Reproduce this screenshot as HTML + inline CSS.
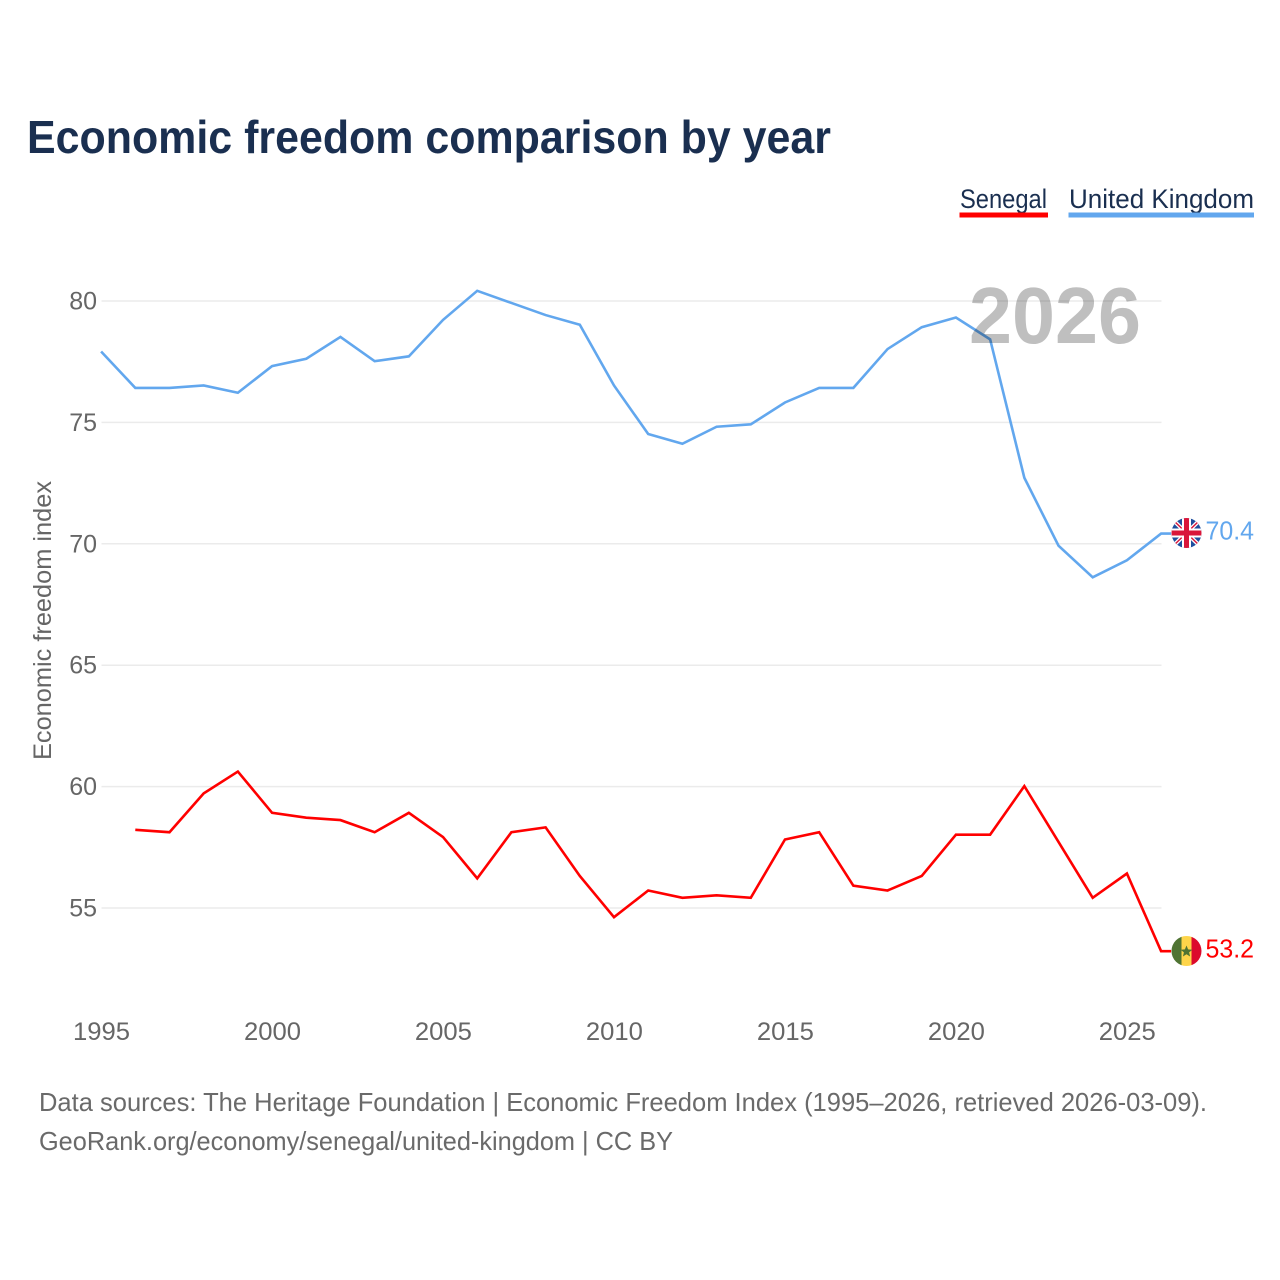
<!DOCTYPE html>
<html lang="en">
<head>
<meta charset="utf-8">
<title>Economic freedom comparison by year</title>
<style>
html,body{margin:0;padding:0;background:#fff;width:1280px;height:1280px;overflow:hidden}
svg{display:block;font-family:"Liberation Sans",sans-serif}
.tick{font-size:25px;fill:#666}
</style>
</head>
<body>
<svg id="chart" width="1280" height="1280" viewBox="0 0 1280 1280" xmlns="http://www.w3.org/2000/svg">
  <defs>
    <clipPath id="uk-clip"><circle cx="1186.5" cy="533" r="15"/></clipPath>
    <clipPath id="sn-clip"><circle cx="1186.5" cy="951" r="15"/></clipPath>
  </defs>
  <rect x="0" y="0" width="1280" height="1280" fill="#fff"/>
  <text x="27" y="153" font-size="46" font-weight="700" fill="#1a2f50" textLength="804" lengthAdjust="spacingAndGlyphs">Economic freedom comparison by year</text>

  <g>
    <g>
      <text x="960" y="208" font-size="27" fill="#1a2f50" textLength="87" lengthAdjust="spacingAndGlyphs">Senegal</text>
      <rect x="959.5" y="212.5" width="88.5" height="5" fill="#ff0000"/>
    </g>
    <g>
      <text x="1069" y="208" font-size="27" fill="#1a2f50" textLength="185" lengthAdjust="spacingAndGlyphs">United Kingdom</text>
      <rect x="1068.5" y="212.5" width="185.5" height="5" fill="#62a7ee"/>
    </g>
  </g>

  <g id="grid"></g>
  <g id="y-ticks"></g>
  <g id="x-ticks"></g>
  <text transform="translate(51,760) rotate(-90)" font-size="25" fill="#666" textLength="279" lengthAdjust="spacingAndGlyphs">Economic freedom index</text>
  <g id="series" transform="translate(-0.4,-0.5)"></g>

  <text x="969" y="343" font-size="80" font-weight="700" fill="#000" fill-opacity="0.25" textLength="172" lengthAdjust="spacingAndGlyphs">2026</text>

  <g id="uk-flag" clip-path="url(#uk-clip)">
    <rect x="1171" y="518" width="31" height="30" fill="#1f4f9e"/>
    <path d="M1171 518L1202 548M1202 518L1171 548" stroke="#fff" stroke-width="4"/>
    <path d="M1171 518L1202 548M1202 518L1171 548" stroke="#d9163a" stroke-width="1.4"/>
    <rect x="1182" y="518" width="9" height="30" fill="#fff"/>
    <rect x="1171" y="528.5" width="31" height="9" fill="#fff"/>
    <rect x="1184" y="518" width="5" height="30" fill="#d9163a"/>
    <rect x="1171" y="530.5" width="31" height="5" fill="#d9163a"/>
  </g>
  <g id="sn-flag" clip-path="url(#sn-clip)">
    <rect x="1171" y="936" width="11" height="30" fill="#4f7433"/>
    <rect x="1181.5" y="936" width="10" height="30" fill="#fed54a"/>
    <rect x="1191.5" y="936" width="11" height="30" fill="#dc0a2c"/>
    <path d="M1186.5 945.5l1.6 3.9 4.2.3-3.2 2.7 1 4.1-3.6-2.2-3.6 2.2 1-4.1-3.2-2.7 4.2-.3z" fill="#4f7433"/>
  </g>
  <text id="uk-value" x="1205.5" y="539.5" font-size="26" fill="#62a7ee" textLength="48.5" lengthAdjust="spacingAndGlyphs"></text>
  <text id="sn-value" x="1205.5" y="957.5" font-size="26" fill="#ff0000" textLength="48.5" lengthAdjust="spacingAndGlyphs"></text>

  <text x="39" y="1111" font-size="26" fill="#6a6a6a" textLength="1168" lengthAdjust="spacingAndGlyphs">Data sources: The Heritage Foundation | Economic Freedom Index (1995–2026, retrieved 2026-03-09).</text>
  <text x="39" y="1150" font-size="26" fill="#6a6a6a" textLength="634" lengthAdjust="spacingAndGlyphs">GeoRank.org/economy/senegal/united-kingdom | CC BY</text>
</svg>
<script>
const years = [1995,1996,1997,1998,1999,2000,2001,2002,2003,2004,2005,2006,2007,2008,2009,2010,2011,2012,2013,2014,2015,2016,2017,2018,2019,2020,2021,2022,2023,2024,2025,2026];
const ukValues = [77.9,76.4,76.4,76.5,76.2,77.3,77.6,78.5,77.5,77.7,79.2,80.4,79.9,79.4,79.0,76.5,74.5,74.1,74.8,74.9,75.8,76.4,76.4,78.0,78.9,79.3,78.4,72.7,69.9,68.6,69.3,70.4];
const senegalValues = [null,58.2,58.1,59.7,60.6,58.9,58.7,58.6,58.1,58.9,57.9,56.2,58.1,58.3,56.3,54.6,55.7,55.4,55.5,55.4,57.8,58.1,55.9,55.7,56.3,58.0,58.0,60.0,57.7,55.4,56.4,53.2];
const yTickValues = [55,60,65,70,75,80];
const xTickValues = [1995,2000,2005,2010,2015,2020,2025];

const NS = 'http://www.w3.org/2000/svg';
function xScale(year){ return 101.5 + (year - 1995) * (1161.5 - 101.5) / (2026 - 1995); }
function yScale(v){ return 301 + (80 - v) * (908 - 301) / 25; }

const gridG = document.getElementById('grid');
const yG = document.getElementById('y-ticks');
const xG = document.getElementById('x-ticks');
const seriesG = document.getElementById('series');

yTickValues.forEach(function(v){
  const line = document.createElementNS(NS,'line');
  
  
  line.setAttribute('x1', 101.5);
  line.setAttribute('x2', 1161.5);
  line.setAttribute('y1', yScale(v));
  line.setAttribute('y2', yScale(v));
  line.setAttribute('stroke', '#ebebeb');
  line.setAttribute('stroke-width', '1.5');
  gridG.appendChild(line);

  const t = document.createElementNS(NS,'text');
  
  
  t.setAttribute('class', 'tick');
  t.setAttribute('x', 97);
  t.setAttribute('y', yScale(v) + 8.5);
  t.setAttribute('text-anchor', 'end');
  t.textContent = v;
  yG.appendChild(t);
});

xTickValues.forEach(function(y){
  const t = document.createElementNS(NS,'text');
  
  
  t.setAttribute('class', 'tick');
  t.setAttribute('x', xScale(y));
  t.setAttribute('y', 1040);
  t.setAttribute('text-anchor', 'middle');
  t.setAttribute('textLength', '57');
  t.setAttribute('lengthAdjust', 'spacingAndGlyphs');
  t.textContent = y;
  xG.appendChild(t);
});

function linePoints(values){
  const pts = [];
  values.forEach(function(v,i){
    if (v !== null) pts.push(xScale(years[i]).toFixed(2) + ',' + yScale(v).toFixed(2));
  });
  const last = values[values.length - 1];
  pts.push((xScale(years[years.length - 1]) + 10).toFixed(2) + ',' + yScale(last).toFixed(2));
  return pts.join(' ');
}

const senegalLine = document.createElementNS(NS,'polyline');


senegalLine.setAttribute('points', linePoints(senegalValues));
senegalLine.setAttribute('fill', 'none');
senegalLine.setAttribute('stroke', '#ff0000');
senegalLine.setAttribute('stroke-width', '2.6');
seriesG.appendChild(senegalLine);

const ukLine = document.createElementNS(NS,'polyline');


ukLine.setAttribute('points', linePoints(ukValues));
ukLine.setAttribute('fill', 'none');
ukLine.setAttribute('stroke', '#62a7ee');
ukLine.setAttribute('stroke-width', '2.6');
seriesG.appendChild(ukLine);

document.getElementById('uk-value').textContent = ukValues[ukValues.length - 1].toFixed(1);
document.getElementById('sn-value').textContent = senegalValues[senegalValues.length - 1].toFixed(1);
</script>
</body>
</html>
